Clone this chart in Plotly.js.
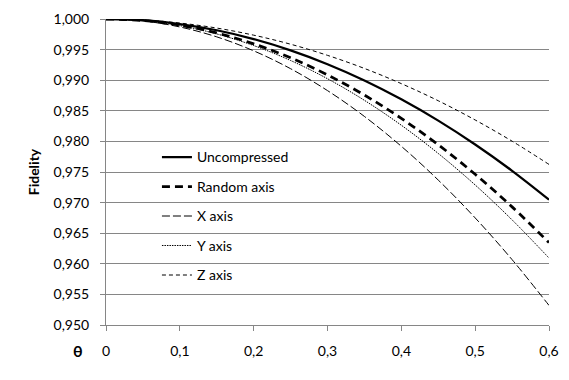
<!DOCTYPE html>
<html>
<head>
<meta charset="utf-8">
<script src="https://cdn.plot.ly/plotly-3.0.1.min.js"></script>
<style>
  html, body { margin: 0; padding: 0; background: #fff; }
  #chart { width: 569px; height: 380px; }
</style>
</head>
<body>
<div id="chart"></div>
<script>
// theta values (x axis)
const theta = [0, 0.05, 0.1, 0.15, 0.2, 0.25, 0.3, 0.35, 0.4, 0.45, 0.5, 0.55, 0.6];

// fidelity
const uncompressed = [1, 0.99980, 0.99918, 0.99816, 0.99672, 0.99488, 0.99262, 0.98996, 0.98688, 0.98340, 0.97950, 0.97520, 0.97048];
const randomAxis   = [1, 0.99975, 0.99899, 0.99772, 0.99594, 0.99366, 0.99087, 0.98757, 0.98376, 0.97945, 0.97463, 0.96930, 0.96346];
const xAxis        = [1, 0.99968, 0.99870, 0.99708, 0.99480, 0.99188, 0.98830, 0.98408, 0.97920, 0.97368, 0.96750, 0.96068, 0.95320];
const yAxis        = [1, 0.99973, 0.99892, 0.99756, 0.99566, 0.99322, 0.99024, 0.98671, 0.98264, 0.97803, 0.97288, 0.96718, 0.96094];
const zAxis        = [1, 0.99984, 0.99934, 0.99852, 0.99736, 0.99588, 0.99406, 0.99192, 0.98944, 0.98664, 0.98350, 0.98004, 0.97624];

const names = ['Uncompressed', 'Random axis', 'X axis', 'Y axis', 'Z axis'];
const series = [uncompressed, randomAxis, xAxis, yAxis, zAxis];

const styles = [
    { color: '#000', width: 2.25, dash: 'solid' },
    { color: '#000', width: 2.75, dash: '8px,5px' },
    { color: '#000', width: 1, dash: '8px,3px' },
    { color: '#000', width: 1, dash: '1.5px,1px' },
    { color: '#000', width: 1, dash: '4px,3px' }
];

const traces = series.map((ys, i) => ({
    x: theta,
    y: ys,
    type: 'scatter',
    mode: 'lines',
    name: names[i],
    legendgroup: 'g' + i,
    line: { color: styles[i].color, width: styles[i].width, dash: styles[i].dash, shape: 'spline' }
}));

const font = { family: 'Lato, "Open Sans", sans-serif', size: 14, color: '#000' };

const layout = {
    width: 569,
    height: 380,
    margin: { l: 106, r: 20, t: 19, b: 55 },
    paper_bgcolor: '#fff',
    plot_bgcolor: '#fff',
    font: font,
    separators: ', ',
    showlegend: true,
    legend: {
        x: 0.115,
        y: 0.60,
        xanchor: 'left',
        yanchor: 'top',
        bgcolor: 'rgba(0,0,0,0)',
        tracegroupgap: 8.3,
        font: font
    },
    xaxis: {
        range: [0, 0.6],
        tickvals: [0, 0.1, 0.2, 0.3, 0.4, 0.5, 0.6],
        showgrid: false,
        zeroline: false,
        showline: true,
        linecolor: '#868686',
        linewidth: 1,
        ticks: 'outside',
        ticklen: 5,
        tickcolor: '#868686',
        ticklabelstandoff: 8
    },
    yaxis: {
        range: [0.95, 1.0],
        dtick: 0.005,
        tickformat: '.3f',
        showgrid: true,
        gridcolor: '#868686',
        gridwidth: 1,
        zeroline: false,
        showline: true,
        linecolor: '#868686',
        linewidth: 1,
        ticks: 'outside',
        ticklen: 5,
        tickcolor: '#868686',
        ticklabelstandoff: 8,
        title: { text: '<b>Fidelity</b>', font: font, standoff: 10 }
    },
    annotations: [{
        text: '<b>θ</b>',
        xref: 'paper', yref: 'paper',
        x: -0.063, y: -0.082,
        xanchor: 'center', yanchor: 'middle',
        showarrow: false,
        font: { family: font.family, size: 16, color: '#000' }
    }]
};

Plotly.newPlot('chart', traces, layout, { displayModeBar: false, staticPlot: true });
</script>
</body>
</html>
